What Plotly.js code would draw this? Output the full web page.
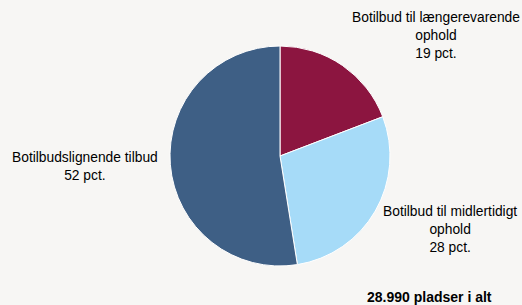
<!DOCTYPE html>
<html>
<head>
<meta charset="utf-8">
<script src="https://cdn.plot.ly/plotly-3.0.1.min.js"></script>
<style>html,body{margin:0;padding:0;background:#f7f6f4;}</style>
</head>
<body>
<div id="chart" style="width:522px;height:305px;"></div>
<script>
const categories = ["Botilbud til længerevarende ophold", "Botilbud til midlertidigt ophold", "Botilbudslignende tilbud"];
const labelLines = ["Botilbud til længerevarende<br>ophold", "Botilbud til midlertidigt<br>ophold", "Botilbudslignende tilbud"];
const shares = [19, 28, 52];
const totalText = "28.990 pladser i alt";
const colors = ["#8c1540", "#a6dbf8", "#3e5f85"];

const labelPos = [
  {x: 436/522, y: 1 - 35/305},
  {x: 450/522, y: 1 - 229/305},
  {x: 85/522, y: 1 - 166/305}
];

const annotations = categories.map((c, i) => ({
  xref: "paper", yref: "paper",
  x: labelPos[i].x, y: labelPos[i].y,
  xanchor: "center", yanchor: "middle",
  text: labelLines[i] + "<br>" + shares[i] + " pct.",
  showarrow: false, align: "center",
  font: {family: "Liberation Sans, Arial, sans-serif", size: 13.8, color: "#000"}
}));
annotations.push({
  xref: "paper", yref: "paper", x: 429/522, y: 1 - 297/305,
  xanchor: "center", yanchor: "middle", showarrow: false,
  text: "<b>" + totalText + "</b>",
  font: {family: "Liberation Sans, Arial, sans-serif", size: 14, color: "#000"}
});

Plotly.newPlot("chart", [{
  type: "pie",
  labels: categories,
  values: shares,
  sort: false,
  direction: "clockwise",
  rotation: 0,
  textinfo: "none",
  hoverinfo: "label+percent",
  marker: {colors: colors, line: {color: "#ffffff", width: 1}},
  domain: {x: [170/522, 390/522], y: [(305-266)/305, (305-46)/305]}
}], {
  width: 522, height: 305,
  margin: {l: 0, r: 0, t: 0, b: 0},
  paper_bgcolor: "#f7f6f4",
  plot_bgcolor: "#f7f6f4",
  showlegend: false,
  annotations: annotations
}, {displayModeBar: false, staticPlot: true});
</script>
</body>
</html>
